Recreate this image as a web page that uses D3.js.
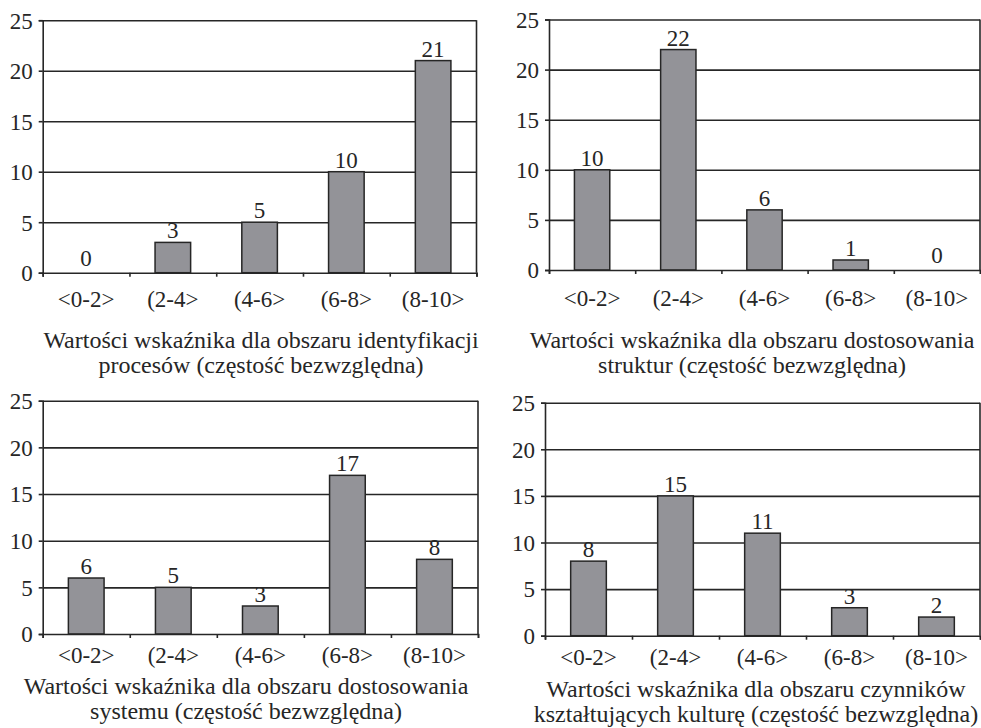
<!DOCTYPE html>
<html>
<head>
<meta charset="utf-8">
<script src="https://cdn.jsdelivr.net/npm/d3@7"></script>
<style>
  html, body { margin: 0; padding: 0; background: #fff; }
  svg { display: block; }
  text { font-family: "Liberation Serif", "Times New Roman", serif; fill: #262626; }
</style>
</head>
<body>
<svg id="chart" width="981" height="728"></svg>
<script>
// ---- data ----
const categories = ["<0-2>", "(2-4>", "(4-6>", "(6-8>", "(8-10>"];
const yTicks = [0, 5, 10, 15, 20, 25];

const valuesProcesy   = [0, 3, 5, 10, 21];
const valuesStruktury = [10, 22, 6, 1, 0];
const valuesSystem    = [6, 5, 3, 17, 8];
const valuesKultura   = [8, 15, 11, 3, 2];

const captionProcesy   = ["Wartości wskaźnika dla obszaru identyfikacji", "procesów (częstość bezwzględna)"];
const captionStruktury = ["Wartości wskaźnika dla obszaru dostosowania", "struktur (częstość bezwzględna)"];
const captionSystem    = ["Wartości wskaźnika dla obszaru dostosowania", "systemu (częstość bezwzględna)"];
const captionKultura   = ["Wartości wskaźnika dla obszaru czynników", "kształtujących kulturę (częstość bezwzględna)"];

// ---- layout (positions only) ----
const panels = [
  { values: valuesProcesy,   caption: captionProcesy,   x0: 42.7, x1: 476.5, yTop: 20.2,  yBot: 272.7, tickBase: 34, capX: 261, capY: [348, 373] },
  { values: valuesStruktury, caption: captionStruktury, x0: 549,  x1: 980,   yTop: 19.5,  yBot: 270,   tickBase: 36, capX: 752, capY: [348, 373] },
  { values: valuesSystem,    caption: captionSystem,    x0: 42.7, x1: 478,   yTop: 400.7, yBot: 634,   tickBase: 29, capX: 246, capY: [694, 719] },
  { values: valuesKultura,   caption: captionKultura,   x0: 545,  x1: 980,   yTop: 402.7, yBot: 635.7, tickBase: 29, capX: 756, capY: [697, 722] }
];

const svg = d3.select("#chart");
const barColor = "#939398";
const lineColor = "#262626";

panels.forEach(p => {
  const g = svg.append("g");
  const x = d3.scaleBand().domain(categories).range([p.x0, p.x1]).padding(0);
  const y = d3.scaleLinear().domain([0, 25]).range([p.yBot, p.yTop]);
  const bw = x.bandwidth() * 0.41;

  // gridlines
  g.append("g")
    .attr("transform", `translate(${p.x0},0)`)
    .call(d3.axisLeft(y).tickValues(yTicks.filter(v => v > 0)).tickSize(-(p.x1 - p.x0)).tickFormat(""))
    .call(s => s.select(".domain").remove())
    .call(s => s.selectAll("line").attr("stroke", lineColor).attr("stroke-width", 1.6));

  // right border
  g.append("line")
    .attr("x1", p.x1).attr("x2", p.x1)
    .attr("y1", y(25)).attr("y2", y(0))
    .attr("stroke", lineColor).attr("stroke-width", 1.6);

  // bars
  g.selectAll("rect.bar").data(p.values).join("rect")
    .attr("class", "bar")
    .attr("x", (d, i) => x(categories[i]) + (x.bandwidth() - bw) / 2)
    .attr("width", bw)
    .attr("y", d => y(d))
    .attr("height", d => y(0) - y(d))
    .attr("fill", barColor)
    .attr("stroke", lineColor)
    .attr("stroke-width", d => d > 0 ? 1.5 : 0);

  // value labels
  g.selectAll("text.val").data(p.values).join("text")
    .attr("class", "val")
    .attr("x", (d, i) => x(categories[i]) + x.bandwidth() / 2)
    .attr("y", d => y(d) - (d > 0 ? 4 : 7))
    .attr("text-anchor", "middle")
    .attr("font-size", 23)
    .text(d => d);

  // y axis
  const ya = g.append("g")
    .attr("transform", `translate(${p.x0},0)`)
    .call(d3.axisLeft(y).tickValues(yTicks).tickSize(4).tickPadding(6));
  ya.select(".domain").attr("stroke", lineColor).attr("stroke-width", 1.6);
  ya.selectAll("line").attr("stroke", lineColor).attr("stroke-width", 1.6);
  ya.selectAll("text").attr("font-size", 23).attr("font-family", "Liberation Serif").attr("fill", "#262626").attr("dy", "0.34em");

  // x axis line with boundary ticks
  const xb = d3.scaleLinear().domain([0, categories.length]).range([p.x0, p.x1]);
  const xa = g.append("g")
    .attr("transform", `translate(0,${p.yBot})`)
    .call(d3.axisBottom(xb).ticks(categories.length).tickSize(4).tickFormat(""));
  xa.select(".domain").attr("stroke", lineColor).attr("stroke-width", 1.6);
  xa.selectAll("line").attr("stroke", lineColor).attr("stroke-width", 1.6);

  // category labels
  g.selectAll("text.cat").data(categories).join("text")
    .attr("class", "cat")
    .attr("x", d => x(d) + x.bandwidth() / 2)
    .attr("y", p.yBot + p.tickBase)
    .attr("text-anchor", "middle")
    .attr("font-size", 23)
    .text(d => d);

  // caption
  g.selectAll("text.cap").data(p.caption).join("text")
    .attr("class", "cap")
    .attr("x", p.capX)
    .attr("y", (d, i) => p.capY[i])
    .attr("text-anchor", "middle")
    .attr("font-size", 24)
    .text(d => d);
});
</script>
</body>
</html>
